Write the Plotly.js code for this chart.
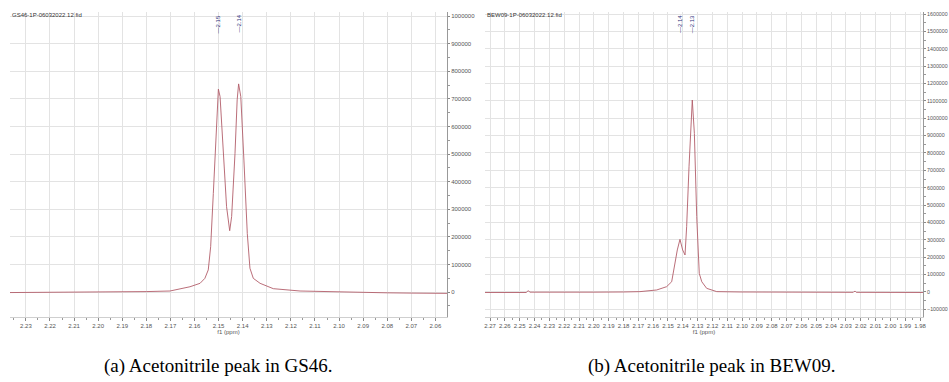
<!DOCTYPE html>
<html><head><meta charset="utf-8">
<script src="https://cdn.plot.ly/plotly-3.0.1.min.js"></script>
<style>html,body{margin:0;padding:0;background:#fff;}#c{width:949px;height:382px;}</style>
</head><body><div id="c"></div>
<script>
// Spectrum (a) GS46
const ppmA = [2.2366,2.22,2.20,2.19,2.18,2.1702,2.1619,2.1577,2.1557,2.1543,2.1533,2.1522,2.1511,2.1501,2.1494,2.1481,2.1467,2.1454,2.1446,2.1432,2.1423,2.1417,2.1408,2.1395,2.1381,2.1370,2.1356,2.1328,2.1273,2.1162,2.10,2.09,2.08,2.07,2.06,2.0552];
const intA = [-2000,-1500,-500,500,1500,3600,19000,31500,49500,80000,164000,357000,575000,735000,708000,502000,309000,222000,273000,502000,696000,754000,708000,478000,212000,86000,49500,31500,12000,3600,0,-2000,-3000,-4000,-5000,-5000];
// Spectrum (b) BEW09
const ppmB = [2.2734,2.26,2.2455,2.2447,2.2440,2.2432,2.23,2.20,2.18,2.1689,2.1576,2.1509,2.1475,2.1453,2.1437,2.1419,2.1401,2.1385,2.1374,2.1358,2.1336,2.1322,2.1306,2.1289,2.1272,2.1239,2.1171,2.1014,2.08,2.05,2.025,2.0245,2.0235,2.023,2.00,1.978];
const intB = [-3000,-3000,-3000,5000,7000,-1000,-2000,-1000,0,2000,11500,30500,59000,165000,242000,303000,242000,213000,376000,721000,1105000,913000,434000,107000,59000,21000,2000,0,-1000,-2000,-2000,3000,3000,-2000,-3000,-3000];
// Tick labels
const xTicksA = [2.23,2.22,2.21,2.20,2.19,2.18,2.17,2.16,2.15,2.14,2.13,2.12,2.11,2.10,2.09,2.08,2.07,2.06];
const xTicksB = [2.27,2.26,2.25,2.24,2.23,2.22,2.21,2.20,2.19,2.18,2.17,2.16,2.15,2.14,2.13,2.12,2.11,2.10,2.09,2.08,2.07,2.06,2.05,2.04,2.03,2.02,2.01,2.00,1.99,1.98];
// Peak labels
const peakPosA = [2.1501,2.1417]; const peakTxtA = ["2.15","2.14"];
const peakPosB = [2.1419,2.1336]; const peakTxtB = ["2.14","2.13"];
const fileA = "GS46-1P-06032022.12.fid";
const fileB = "BEW09-1P-06032022.12.fid";
const capA = "(a) Acetonitrile peak in GS46.";
const capB = "(b) Acetonitrile peak in BEW09.";

const W=949,H=382;
const px = v=>v/W, py = v=>1-v/H;
const lineCol = '#b25e6a';
const gridCol = '#e3e3e3';
const tickFont = {family:'Liberation Sans, Arial', size:6, color:'#555'};
const tickFontB = {family:'Liberation Sans, Arial', size:5.3, color:'#555'};

function xax(domain, range, ticks){
  return {domain:domain, range:range, tickvals:ticks, ticktext:ticks.map(v=>v.toFixed(2)), tickangle:0,
    showgrid:true, gridcolor:gridCol, gridwidth:1, zeroline:false,
    showline:true, linecolor:'#cfcfcf', ticks:'outside', ticklen:3, tickcolor:'#888',
    minor:{dtick:0.005, ticks:'outside', ticklen:2, tickcolor:'#999', showgrid:false},
    tickfont:tickFont, title:{text:'f1 (ppm)', font:tickFont, standoff:0}, fixedrange:true, mirror:false};
}
function yax(domain, range, anchor, tf){
  return {domain:domain, range:range, side:'right', anchor:anchor, dtick:100000, tick0:0, tickformat:'d',
    showgrid:true, gridcolor:gridCol, zeroline:false, showline:true, linecolor:'#999',
    ticks:'outside', ticklen:2, tickcolor:'#888', ticklabelstandoff:0,
    minor:{dtick:50000, ticks:'outside', ticklen:2, tickcolor:'#999', showgrid:false},
    tickfont:tf};
}
const yDom=[1-317/H, 1-12/H];
const data=[
 {x:ppmA, y:intA, type:'scatter', mode:'lines', line:{color:lineCol, width:0.9}, xaxis:'x', yaxis:'y', hoverinfo:'skip'},
 {x:ppmB, y:intB, type:'scatter', mode:'lines', line:{color:lineCol, width:0.9}, xaxis:'x2', yaxis:'y2', hoverinfo:'skip'}
];
const ann=[];
const smallF={family:'Liberation Sans, Arial', size:6, color:'#333'};
ann.push({xref:'paper', yref:'paper', x:px(10), y:py(15), xanchor:'left', yanchor:'middle', text:fileA, showarrow:false, font:smallF});
ann.push({xref:'paper', yref:'paper', x:px(485), y:py(15), xanchor:'left', yanchor:'middle', text:fileB, showarrow:false, font:smallF});
const pkF={family:'Liberation Sans, Arial', size:6, color:'#2a2f7a'};
peakPosA.forEach((p,i)=>ann.push({xref:'x', yref:'paper', x:p, y:py(13), yanchor:'top', xanchor:'center', text:'—'+peakTxtA[i], textangle:-90, showarrow:false, font:pkF}));
peakPosB.forEach((p,i)=>ann.push({xref:'x2', yref:'paper', x:p, y:py(13), yanchor:'top', xanchor:'center', text:'—'+peakTxtB[i], textangle:-90, showarrow:false, font:pkF}));
const capF={family:'Liberation Serif, Times New Roman, serif', size:19, color:'#000'};
ann.push({xref:'paper', yref:'paper', x:px(218), y:py(366), xanchor:'center', yanchor:'middle', text:capA, showarrow:false, font:capF});
ann.push({xref:'paper', yref:'paper', x:px(711), y:py(366), xanchor:'center', yanchor:'middle', text:capB, showarrow:false, font:capF});

const layout={width:W, height:H, margin:{l:0,r:0,t:0,b:0}, paper_bgcolor:'#fff', plot_bgcolor:'#fff', showlegend:false,
 xaxis:xax([px(10),px(447)],[2.2366,2.0552],xTicksA),
 yaxis:yax(yDom,[-90600,1014500],'x',tickFont),
 xaxis2:xax([px(485),px(923)],[2.2734,1.978],xTicksB),
 yaxis2:yax(yDom,[-144000,1611500],'x2',tickFontB),
 annotations:ann};
layout.xaxis.anchor='y'; layout.xaxis2.anchor='y2';
Plotly.newPlot('c', data, layout, {staticPlot:true});
</script></body></html>
